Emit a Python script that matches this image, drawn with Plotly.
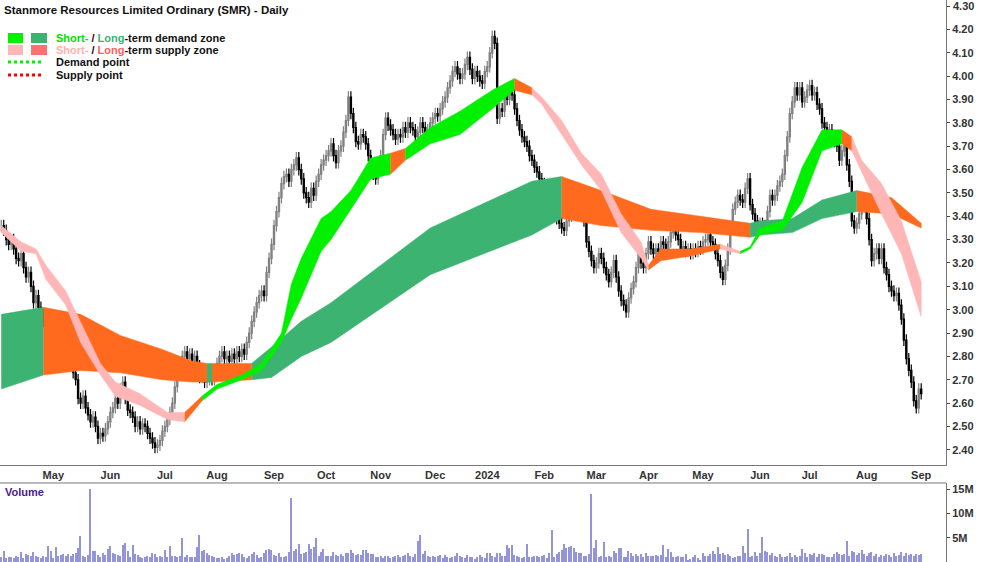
import pandas as pd
import plotly.graph_objects as go

# daily closes, one row per month (Apr 2023 .. Sep 2024)
closes = [
    3.36,3.34,3.30,3.28,3.30,3.26,3.22,3.21,3.24,3.18,3.14,3.16,3.10,3.03,3.06,3.01,2.98,2.95,2.92,
    2.90,2.86,2.88,2.85,2.87,2.86,2.83,2.80,2.82,2.78,2.73,2.70,2.62,2.60,2.63,2.58,2.55,2.52,2.54,2.50,2.45,2.47,2.46,
    2.49,2.52,2.56,2.58,2.62,2.60,2.66,2.69,2.62,2.57,2.56,2.54,2.50,2.52,2.49,2.51,2.50,2.47,2.45,2.43,2.41,2.42,
    2.44,2.48,2.50,2.53,2.56,2.60,2.67,2.72,2.77,2.80,2.82,2.79,2.81,2.78,2.80,2.76,2.71,2.73,2.69,2.70,2.72,
    2.70,2.74,2.77,2.80,2.82,2.79,2.80,2.78,2.81,2.79,2.82,2.80,2.83,2.81,2.86,2.90,2.95,2.99,3.03,3.06,3.08,3.06,3.16,
    3.22,3.28,3.36,3.42,3.48,3.54,3.57,3.58,3.55,3.60,3.62,3.65,3.60,3.56,3.50,3.48,3.46,3.52,3.49,3.55,3.58,
    3.62,3.64,3.66,3.68,3.71,3.66,3.63,3.68,3.70,3.76,3.81,3.91,3.84,3.78,3.72,3.71,3.75,3.74,3.71,3.66,3.62,3.58,
    3.56,3.60,3.66,3.75,3.82,3.79,3.77,3.75,3.73,3.75,3.74,3.78,3.76,3.80,3.78,3.77,3.74,3.76,3.80,3.78,3.74,3.77,
    3.80,3.82,3.84,3.83,3.86,3.89,3.91,3.95,3.98,4.02,4.04,4.01,3.99,4.01,4.05,4.08,4.03,3.99,4.02,
    4.00,3.98,3.97,4.02,4.04,4.10,4.17,4.14,3.82,3.86,3.85,3.94,3.90,3.93,3.92,3.86,3.81,3.77,3.74,3.72,3.70,3.66,
    3.64,3.61,3.59,3.56,3.54,3.51,3.49,3.46,3.43,3.41,3.39,3.37,3.35,3.34,3.38,3.40,3.43,3.45,3.46,3.44,3.42,
    3.38,3.29,3.25,3.21,3.18,3.20,3.24,3.22,3.18,3.15,3.12,3.16,3.21,3.14,3.08,3.04,3.02,2.99,3.05,3.09,
    3.12,3.18,3.24,3.20,3.18,3.24,3.29,3.26,3.24,3.26,3.25,3.29,3.28,3.26,3.29,3.33,3.35,3.32,3.30,3.25,3.27,3.25,
    3.26,3.24,3.26,3.25,3.27,3.26,3.29,3.30,3.32,3.29,3.28,3.24,3.21,3.16,3.13,3.19,3.26,3.35,3.43,3.46,3.49,3.47,3.46,
    3.52,3.56,3.45,3.41,3.38,3.36,3.37,3.36,3.35,3.42,3.49,3.47,3.49,3.53,3.55,3.58,3.66,3.74,3.84,3.89,
    3.95,3.92,3.95,3.89,3.91,3.94,3.96,3.92,3.93,3.88,3.86,3.80,3.78,3.76,3.77,3.74,3.72,3.70,3.64,3.68,3.72,3.62,3.55,
    3.38,3.35,3.37,3.41,3.44,3.46,3.39,3.30,3.21,3.24,3.26,3.22,3.26,3.18,3.15,3.10,3.08,3.06,3.07,3.02,2.96,2.87,
    2.79,2.74,2.69,2.61,2.58,2.66,2.64,
]

# volume in millions
volume = [
    1.0,2.2,0.8,1.0,1.1,0.9,1.2,1.0,2.0,0.9,1.6,1.5,1.2,2.0,1.3,1.0,0.9,1.2,1.1,
    3.2,2.2,0.9,3.0,1.2,1.4,1.6,1.2,1.6,1.2,1.6,1.8,2.8,5.3,1.3,1.0,1.4,15.0,2.2,2.3,1.4,1.0,1.8,
    1.4,2.6,3.2,1.8,1.7,1.5,1.3,3.5,4.0,2.3,1.0,3.5,1.6,1.4,1.0,0.8,1.1,1.3,1.0,1.8,1.7,1.0,
    1.2,1.0,2.4,1.0,3.2,1.2,1.3,1.0,1.3,5.0,1.0,1.5,1.0,1.0,1.1,3.1,5.5,2.3,2.4,1.9,1.5,
    1.2,1.1,0.9,0.9,1.0,0.7,0.9,1.2,1.8,1.4,1.7,1.8,1.6,1.0,0.9,1.2,1.7,2.1,1.4,0.8,1.0,1.9,2.4,
    2.7,2.5,1.5,1.2,1.8,1.0,1.0,1.3,2.0,13.1,2.2,2.7,3.8,1.7,1.8,2.0,3.8,2.6,3.1,5.0,1.2,
    2.1,2.6,1.2,1.3,1.2,2.0,1.5,1.2,1.7,1.2,1.8,1.8,2.4,1.8,1.4,1.7,1.4,2.4,2.5,1.8,1.7,1.6,
    1.0,1.0,1.3,0.9,1.3,1.2,0.8,1.0,1.3,1.4,1.0,1.3,1.4,1.8,1.3,1.1,1.7,4.3,5.5,1.7,2.2,1.2,
    1.0,1.3,1.1,1.3,1.5,0.8,1.4,1.1,0.8,1.0,1.2,1.8,1.2,1.0,0.9,1.5,1.0,1.0,0.7,
    1.1,1.5,1.0,0.9,1.9,1.9,1.3,1.0,1.9,1.8,1.2,1.2,3.5,2.8,3.5,1.5,1.3,1.0,0.9,1.1,3.8,1.0,
    1.1,1.3,1.2,1.0,1.3,1.5,0.8,1.9,6.5,1.0,1.6,2.1,2.5,3.8,2.8,3.0,3.3,2.9,2.0,1.8,1.8,
    1.3,1.2,1.7,14.0,2.8,4.6,1.0,1.3,4.2,1.0,1.2,1.1,2.3,1.9,2.8,2.8,1.0,1.1,2.2,1.9,
    1.2,1.6,1.2,1.6,1.1,1.9,1.2,1.2,1.3,1.5,1.3,1.4,3.6,1.0,2.7,2.0,1.0,1.1,1.2,1.0,1.0,1.6,
    0.5,0.7,1.0,1.4,0.9,0.5,1.8,1.3,1.3,1.6,2.2,1.6,3.1,1.6,1.9,1.5,1.6,1.2,0.9,1.0,1.2,1.3,3.2,
    1.9,6.7,1.1,1.3,2.0,1.3,1.8,5.1,2.3,2.1,1.4,1.8,1.2,1.0,1.6,1.0,1.1,1.2,1.8,1.1,
    1.5,1.1,1.3,2.7,1.8,1.0,1.6,1.5,1.8,1.0,1.7,1.6,1.5,1.0,1.0,1.0,1.6,2.0,1.6,1.4,1.6,4.4,1.2,
    2.2,2.1,1.4,1.8,2.4,1.6,1.2,1.8,2.0,1.3,1.7,1.0,1.4,1.2,1.6,1.4,1.1,1.9,1.2,1.5,2.0,1.2,
    1.8,1.5,1.6,1.3,1.7,1.4,1.6,
]

# long-term zone edges (day index, upper, lower, state of following stretch)
lt_day = [0, 17, 32, 48, 65, 77, 83, 85, 101, 109, 121, 133, 173, 214, 226, 242, 262, 282, 302, 306, 319, 331, 345, 359, 371]
lt_up = [2.98, 3.01, 2.98, 2.89, 2.83, 2.78, 2.77, 2.77, 2.77, 2.84, 2.95, 3.03, 3.35, 3.55, 3.57, 3.51, 3.43, 3.40, 3.37, 3.38, 3.39, 3.47, 3.51, 3.48, 3.37]
lt_lo = [2.66, 2.72, 2.74, 2.73, 2.70, 2.69, 2.69, 2.69, 2.70, 2.71, 2.80, 2.86, 3.15, 3.32, 3.39, 3.36, 3.34, 3.33, 3.31, 3.32, 3.33, 3.39, 3.42, 3.41, 3.35]
lt_state = ["d", "s", "s", "s", "s", "s", "d", "s", "d", "d", "d", "d", "d", "d", "s", "s", "s", "s", "d", "d", "d", "d", "s", "s", "s"]

# short-term zone edges
st_day = [0, 8, 14, 18, 26, 32, 40, 46, 56, 67, 74, 81, 87, 97, 105, 113, 117, 121, 129, 133, 141, 149, 157, 163, 173, 185,
          198, 207, 214, 218, 226, 234, 242, 250, 258, 261, 266, 278, 290, 298, 302, 306, 315, 323, 331, 339, 343, 347, 355, 363, 371]
st_up = [3.36, 3.29, 3.26, 3.19, 3.08, 2.95, 2.77, 2.69, 2.64, 2.56, 2.56, 2.63, 2.68, 2.72, 2.77, 2.90, 3.11, 3.22, 3.39, 3.42, 3.51, 3.65, 3.67, 3.69, 3.78, 3.85,
         3.94, 3.99, 3.95, 3.91, 3.81, 3.67, 3.58, 3.41, 3.29, 3.19, 3.26, 3.26, 3.28, 3.25, 3.27, 3.35, 3.38, 3.61, 3.77, 3.77, 3.74, 3.64, 3.54, 3.38, 3.12]
st_lo = [3.33, 3.25, 3.24, 3.13, 3.02, 2.86, 2.72, 2.63, 2.59, 2.53, 2.52, 2.61, 2.66, 2.70, 2.74, 2.86, 2.96, 3.05, 3.25, 3.30, 3.43, 3.56, 3.58, 3.64, 3.71, 3.75,
         3.86, 3.94, 3.92, 3.88, 3.75, 3.62, 3.51, 3.33, 3.22, 3.17, 3.21, 3.23, 3.26, 3.24, 3.26, 3.32, 3.34, 3.46, 3.68, 3.71, 3.68, 3.59, 3.41, 3.24, 2.97]
st_state = ["s", "s", "s", "s", "s", "s", "s", "s", "s", "s", "o", "d", "d", "d", "d", "d", "d", "d", "d", "d", "d", "d", "o", "d", "d", "d",
            "d", "o", "s", "s", "s", "s", "s", "s", "s", "o", "o", "o", "s", "d", "d", "d", "d", "d", "d", "o", "s", "s", "s", "s", "s"]

price_ticks = [round(2.4 + 0.1 * k, 2) for k in range(20)]
vol_ticks = [5, 10, 15]

dates = pd.bdate_range("2023-04-03", periods=len(closes))
days = list(range(len(closes)))
opens = [closes[0]] + closes[:-1]
WICK = 0.025
highs = [max(o, c) + WICK for o, c in zip(opens, closes)]
lows = [min(o, c) - WICK for o, c in zip(opens, closes)]

month_pos, month_txt = [], []
for i in range(1, len(dates)):
    if dates[i].month != dates[i - 1].month:
        month_pos.append(i + 1)
        month_txt.append("2024" if dates[i].month == 1 else dates[i].strftime("%b"))

LT_COL = {"d": "#3CB371", "s": "#FF6A1F"}
ST_COL = {"d": "#00F000", "s": "#FFB6B6", "o": "#FF6A1F"}

fig = go.Figure()


def add_zone(day, up, lo, state, cols):
    j = 0
    while j < len(day) - 1:
        k = j
        while k + 1 < len(day) - 1 and state[k + 1] == state[j]:
            k += 1
        xs = day[j:k + 2]
        ys_u = up[j:k + 2]
        ys_l = lo[j:k + 2]
        fig.add_trace(go.Scatter(x=xs + xs[::-1], y=ys_u + ys_l[::-1], fill="toself",
                                 fillcolor=cols[state[j]], line=dict(width=0.5, color=cols[state[j]]),
                                 mode="lines", hoverinfo="skip", showlegend=False, xaxis="x", yaxis="y"))
        j = k + 1


add_zone(lt_day, lt_up, lt_lo, lt_state, LT_COL)
add_zone(st_day, st_up, st_lo, st_state, ST_COL)

fig.add_trace(go.Candlestick(x=days, open=opens, high=highs, low=lows, close=closes,
                             increasing=dict(line=dict(color="#808080", width=1.2), fillcolor="#c8c8c8"),
                             decreasing=dict(line=dict(color="#000000", width=1.2), fillcolor="#000000"),
                             whiskerwidth=0, showlegend=False, xaxis="x", yaxis="y"))

fig.add_trace(go.Bar(x=days, y=volume, marker=dict(color="#9494d8", line=dict(width=0)), width=0.5,
                     showlegend=False, xaxis="x2", yaxis="y2"))

xr = [-0.5, 381]
fig.update_layout(
    width=1000, height=562, margin=dict(l=0, r=54, t=0, b=0),
    plot_bgcolor="white", paper_bgcolor="white",
    font=dict(family="Liberation Sans, Arial", size=11, color="#222"),
    xaxis=dict(domain=[0, 1], range=xr, anchor="y", tickvals=month_pos,
               ticktext=["<b>%s</b>" % t for t in month_txt],
               showgrid=False, zeroline=False, ticks="", showline=True, linecolor="#777",
               tickfont=dict(size=11, color="#333"), rangeslider=dict(visible=False)),
    yaxis=dict(domain=[0.1726, 1], range=[2.335, 4.326], side="right", tickvals=price_ticks,
               ticktext=["<b>%.2f</b>" % v for v in price_ticks], showgrid=False, zeroline=False,
               ticks="outside", ticklen=3, showline=True, linecolor="#777",
               tickfont=dict(size=11, color="#333", family="Liberation Sans, Arial")),
    xaxis2=dict(domain=[0, 1], range=xr, anchor="y2", matches="x", showticklabels=False,
                showgrid=False, zeroline=False, ticks=""),
    yaxis2=dict(domain=[0, 0.1406], range=[0, 16.25], side="right", tickvals=vol_ticks,
                ticktext=["<b>%dM</b>" % v for v in vol_ticks], showgrid=False, zeroline=False,
                ticks="outside", ticklen=3, showline=True, linecolor="#777",
                tickfont=dict(size=11, color="#333")),
    bargap=0,
)

# top price label gets clipped by plotly, so place it by hand
fig.add_annotation(text="<b>4.30</b>", xref="paper", yref="y", x=1, y=4.30, xanchor="left",
                   xshift=5, showarrow=False, font=dict(size=11, color="#333"))

# panel separators
fig.add_shape(type="line", xref="paper", yref="paper", x0=0, x1=1, y0=0.1406, y1=0.1406,
              line=dict(color="#777", width=1))

# title and legend
fig.add_annotation(text="<b>Stanmore Resources Limited Ordinary (SMR) - Daily</b>", xref="paper", yref="paper",
                   x=0.002, y=0.997, xanchor="left", yanchor="top", showarrow=False, font=dict(size=11.5, color="#111"))
H = 562.0
W = 946.0
legend_rows = [
    (38, "#00F000", "#3CB371", "<b><span style='color:#00E000'>Short-</span> / <span style='color:#3CB371'>Long</span>-term demand zone</b>"),
    (50, "#FFB6B6", "#FF7070", "<b><span style='color:#FFB0B0'>Short-</span> / <span style='color:#FF6060'>Long</span>-term supply zone</b>"),
]
for yc, c1, c2, txt in legend_rows:
    for xa, xb, c in ((8, 23, c1), (31, 47, c2)):
        fig.add_shape(type="rect", xref="paper", yref="paper", x0=xa / W, x1=xb / W,
                      y0=1 - (yc + 5) / H, y1=1 - (yc - 5) / H, line=dict(width=0), fillcolor=c)
    fig.add_annotation(text=txt, xref="paper", yref="paper", x=54 / W, y=1 - yc / H, xanchor="left",
                       yanchor="middle", showarrow=False, font=dict(size=11, color="#111"))
for yc, c, txt in ((62, "#00F000", "Demand point"), (75, "#FF0000", "Supply point")):
    fig.add_shape(type="line", xref="paper", yref="paper", x0=8 / W, x1=44 / W, y0=1 - yc / H, y1=1 - yc / H,
                  line=dict(color=c, width=3, dash="dot"))
    fig.add_annotation(text="<b>%s</b>" % txt, xref="paper", yref="paper", x=54 / W, y=1 - yc / H,
                       xanchor="left", yanchor="middle", showarrow=False, font=dict(size=11, color="#111"))

fig.add_annotation(text="<b>Volume</b>", xref="paper", yref="paper", x=0.003, y=0.138, xanchor="left",
                   yanchor="top", showarrow=False, font=dict(size=11, color="#4B1A8C"))

fig.write_html("out.html", config={"displayModeBar": False},
               post_script="document.body.style.margin='0';document.body.style.overflow='hidden';")
